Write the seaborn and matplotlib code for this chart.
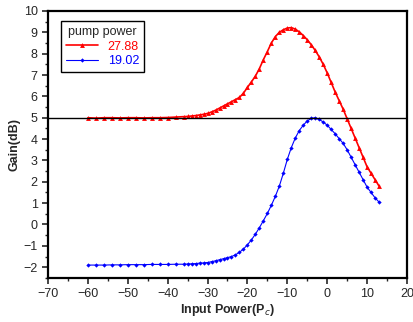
import pandas as pd
import matplotlib.pyplot as plt
import seaborn as sns
from matplotlib.ticker import MultipleLocator

# values
x_red = [-60, -58, -56, -54, -52, -50, -48, -46, -44, -42, -40, -38,
         -36, -35, -34, -33, -32, -31, -30, -29, -28, -27, -26, -25, -24, -23, -22,
         -21, -20, -19, -18, -17, -16, -15, -14, -13, -12, -11, -10, -9, -8, -7,
         -6, -5, -4, -3, -2, -1, 0, 1, 2, 3, 4, 5, 6, 7, 8, 9, 10, 11, 12, 13]
y_red = [5.0, 4.98, 5.0, 5.0, 4.99, 5.0, 5.0, 4.99, 5.0, 5.0, 5.01, 5.03,
         5.05, 5.06, 5.08, 5.1, 5.13, 5.16, 5.2, 5.27, 5.35, 5.45, 5.55, 5.65, 5.75, 5.85, 5.95,
         6.15, 6.42, 6.68, 6.95, 7.3, 7.72, 8.1, 8.5, 8.8, 9.0, 9.12, 9.2, 9.22, 9.15, 9.02,
         8.85, 8.65, 8.42, 8.15, 7.85, 7.5, 7.1, 6.65, 6.2, 5.8, 5.4, 4.95, 4.5, 4.05,
         3.6, 3.15, 2.7, 2.4, 2.1, 1.8]
x_blue = [-60, -58, -56, -54, -52, -50, -48, -46, -44, -42, -40, -38,
          -36, -35, -34, -33, -32, -31, -30, -29, -28, -27, -26, -25, -24, -23, -22,
          -21, -20, -19, -18, -17, -16, -15, -14, -13, -12, -11, -10, -9, -8, -7,
          -6, -5, -4, -3, -2, -1, 0, 1, 2, 3, 4, 5, 6, 7, 8, 9, 10, 11, 12, 13]
y_blue = [-1.9, -1.9, -1.9, -1.89, -1.89, -1.88, -1.88, -1.88, -1.87, -1.87, -1.87, -1.86,
          -1.86, -1.85, -1.84, -1.83, -1.81, -1.8, -1.78, -1.74, -1.7, -1.65, -1.6, -1.55,
          -1.5, -1.42, -1.3, -1.15, -0.95, -0.72, -0.45, -0.15, 0.18, 0.52, 0.9, 1.32, 1.8,
          2.4, 3.05, 3.6, 4.05, 4.4, 4.65, 4.85, 4.97, 5.0, 4.92, 4.8, 4.65, 4.45, 4.25,
          4.02, 3.8, 3.5, 3.15, 2.8, 2.45, 2.1, 1.75, 1.5, 1.25, 1.05]
labels = ['27.88', '19.02']

red = pd.DataFrame({'x': x_red, 'y': y_red})
blue = pd.DataFrame({'x': x_blue, 'y': y_blue})

sns.set_style('ticks')
plt.rcParams['font.family'] = ['Liberation Sans', 'DejaVu Sans']

fig = plt.figure(figsize=(4.14, 3.22), dpi=100)
ax = fig.add_axes([0.116, 0.137, 0.867, 0.829])

sns.lineplot(data=red, x='x', y='y', ax=ax, color='red', marker='^', markersize=3.5,
             markeredgewidth=0, linewidth=1.2, sort=False, label=labels[0])
sns.lineplot(data=blue, x='x', y='y', ax=ax, color='blue', marker='D', markersize=2.2,
             markeredgewidth=0, linewidth=0.8, sort=False, label=labels[1])
ax.axhline(5, color='black', linewidth=1)

ax.set_xlim(-70, 20)
ax.set_ylim(-2.5, 10)
ax.xaxis.set_major_locator(MultipleLocator(10))
ax.xaxis.set_minor_locator(MultipleLocator(5))
ax.yaxis.set_major_locator(MultipleLocator(1))
ax.yaxis.set_minor_locator(MultipleLocator(0.5))
ax.tick_params(which='major', direction='out', length=4, width=1.2, labelsize=9)
ax.tick_params(which='minor', direction='out', length=2.5, width=1)
for s in ax.spines.values():
    s.set_linewidth(1.6)
    s.set_color('black')

ax.set_xlabel('Input Power(P$_c$)', fontsize=9, fontweight='bold', labelpad=1)
ax.set_ylabel('Gain(dB)', fontsize=9, fontweight='bold', labelpad=2)

leg = ax.legend(title='pump power', loc='upper left', bbox_to_anchor=(0.02, 0.985),
                fontsize=9, title_fontsize=9, fancybox=False, framealpha=1,
                edgecolor='black', handlelength=2.5, borderpad=0.4, labelspacing=0.2)
leg.get_frame().set_linewidth(1)
for t, c in zip(leg.get_texts(), ['red', 'blue']):
    t.set_color(c)

fig.savefig('out.png', dpi=100)
